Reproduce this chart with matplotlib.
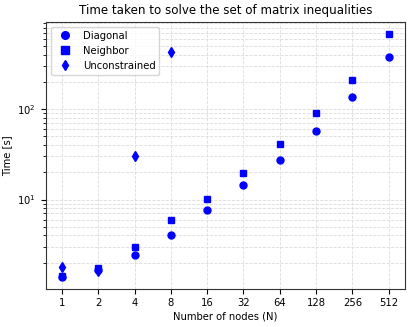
import matplotlib
matplotlib.use("Agg")
import matplotlib.pyplot as plt
import numpy as np

nodes = [1, 2, 4, 8, 16, 32, 64, 128, 256, 512]
diagonal = [1.40, 1.65, 2.43, 4.05, 7.6, 14.3, 27.2, 56.8, 137, 378]
neighbor = [1.42, 1.76, 3.0, 5.9, 10.2, 19.7, 41, 90, 209, 680]
unc_nodes = [1, 2, 4, 8]
unconstrained = [1.80, 1.62, 30.5, 425]

fig, ax = plt.subplots(figsize=(4.15, 3.27), dpi=100)
pos = np.arange(len(nodes))
upos = [nodes.index(n) for n in unc_nodes]

ax.plot(pos, diagonal, "o", color="blue", ms=5, ls="none", label="Diagonal")
ax.plot(pos, neighbor, "s", color="blue", ms=5, ls="none", label="Neighbor")
ax.plot(upos, unconstrained, "d", color="blue", ms=5, ls="none", label="Unconstrained")

ax.set_yscale("log")
ax.set_xticks(pos)
ax.set_xticklabels([str(n) for n in nodes])
ax.grid(True, which="both", ls="--", color="#dcdcdc", lw=0.6)
ax.set_axisbelow(True)
ax.tick_params(labelsize=7.2)
for s in ax.spines.values():
    s.set_color("#333333")
ax.set_xlabel("Number of nodes (N)", fontsize=7.2, labelpad=2)
ax.set_ylabel("Time [s]", fontsize=7.2)
ax.set_title("Time taken to solve the set of matrix inequalities", fontsize=8.6)
ax.legend(loc="upper left", fontsize=7.2, markerscale=1.1)

fig.subplots_adjust(left=0.11, right=0.976, top=0.933, bottom=0.117)
fig.savefig("out.png")
